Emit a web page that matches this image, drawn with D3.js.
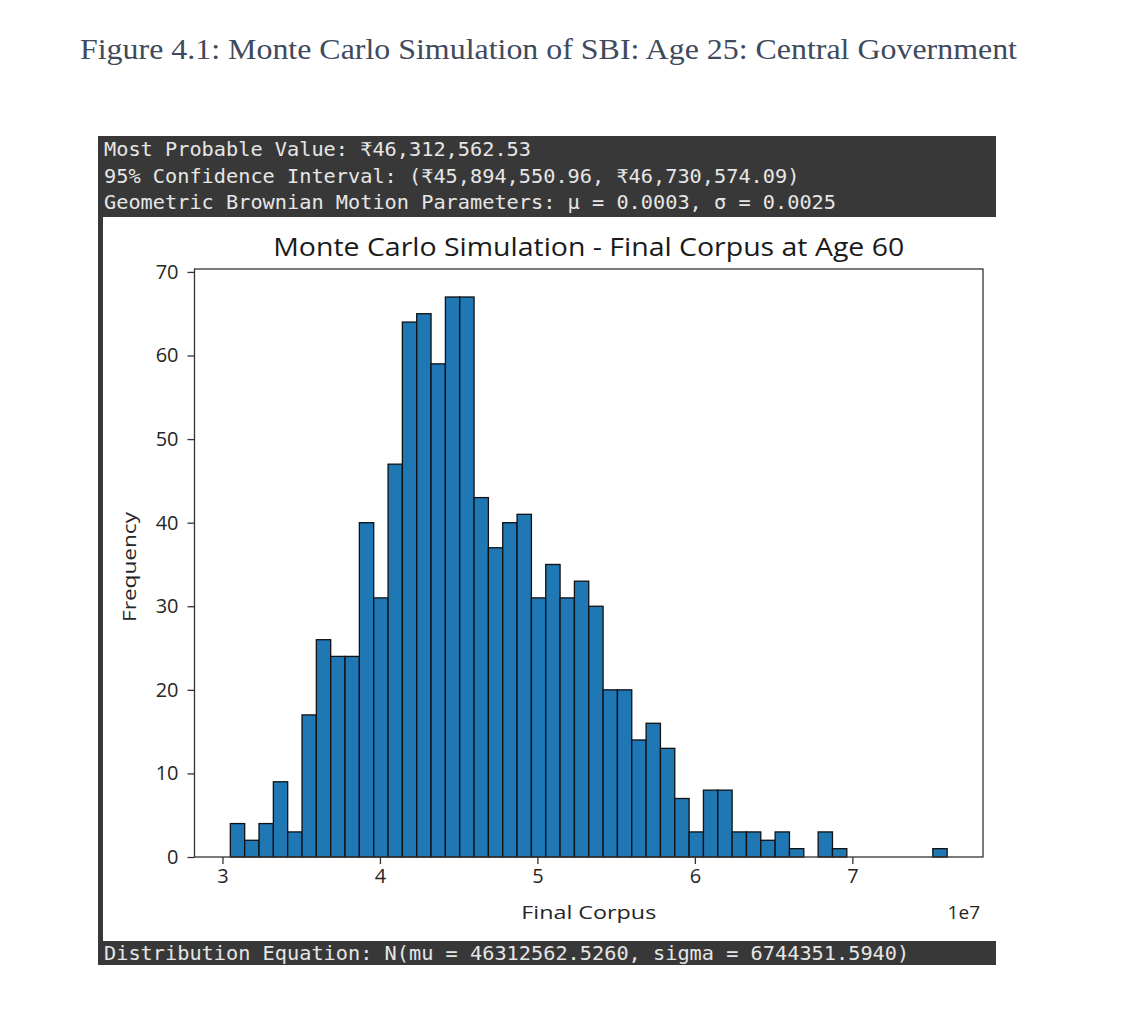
<!DOCTYPE html>
<html>
<head>
<meta charset="utf-8">
<script src="https://cdn.jsdelivr.net/npm/d3@7"></script>
<style>
  body { margin: 0; background: #ffffff; }
  svg { display: block; }
</style>
</head>
<body>
<svg id="chart" width="1140" height="1012"></svg>
<script>
// ---------- DATA ----------
const pageTitle = "Figure 4.1: Monte Carlo Simulation of SBI: Age 25: Central Government";
const headerLines = [
  "Most Probable Value: ₹46,312,562.53",
  "95% Confidence Interval: (₹45,894,550.96, ₹46,730,574.09)",
  "Geometric Brownian Motion Parameters: μ = 0.0003, σ = 0.0025"
];
const footerLine = "Distribution Equation: N(mu = 46312562.5260, sigma = 6744351.5940)";
const chartTitle = "Monte Carlo Simulation - Final Corpus at Age 60";
const xLabel = "Final Corpus";
const yLabel = "Frequency";
const xOffsetLabel = "1e7";
const histRange = [30500000, 76020000];   // min and max of simulated corpus
const binCounts = [
  4, 2, 4, 9, 3, 17, 26, 24, 24, 40,
  31, 47, 64, 65, 59, 67, 67, 43, 37, 40,
  41, 31, 35, 31, 33, 30, 20, 20, 14, 16,
  13, 7, 3, 8, 8, 3, 3, 2, 3, 1,
  0, 3, 1, 0, 0, 0, 0, 0, 0, 1
];
const xTickValues = [30000000, 40000000, 50000000, 60000000, 70000000];
const yTickValues = [0, 10, 20, 30, 40, 50, 60, 70];

// ---------- DRAW ----------
const svg = d3.select("#chart");

// page title
svg.append("text")
  .attr("x", 80).attr("y", 59)
  .attr("font-family", "'Liberation Serif', 'Times New Roman', serif")
  .attr("font-size", 30)
  .attr("fill", "#3f4a5c")
  .attr("textLength", 937)
  .attr("lengthAdjust", "spacingAndGlyphs")
  .text(pageTitle);

// header dark box
svg.append("rect").attr("x", 98).attr("y", 136).attr("width", 898).attr("height", 81).attr("fill", "#383838");
// left dark strip
svg.append("rect").attr("x", 98).attr("y", 136).attr("width", 5).attr("height", 829).attr("fill", "#383838");
// footer dark bar
svg.append("rect").attr("x", 98).attr("y", 941).attr("width", 898).attr("height", 24).attr("fill", "#383838");

const mono = "'DejaVu Sans Mono', 'Liberation Mono', monospace";
const headerBaselines = [156, 183, 209];
svg.selectAll("text.hdr").data(headerLines).join("text")
  .attr("class", "hdr")
  .attr("x", 104)
  .attr("y", (d, i) => headerBaselines[i])
  .attr("font-family", mono)
  .attr("font-size", 19)
  .attr("fill", "#e6e6e6")
  .attr("textLength", d => d.length * 12.2)
  .attr("lengthAdjust", "spacingAndGlyphs")
  .text(d => d);

svg.append("text")
  .attr("x", 104).attr("y", 960)
  .attr("font-family", mono)
  .attr("font-size", 19)
  .attr("fill", "#e6e6e6")
  .attr("textLength", footerLine.length * 12.2)
  .attr("lengthAdjust", "spacingAndGlyphs")
  .text(footerLine);

// plot geometry
const plot = { left: 194.5, right: 983, top: 269, bottom: 857 };
const nBins = binCounts.length;
const span = histRange[1] - histRange[0];
const binW = span / nBins;
const bins = binCounts.map((c, i) => ({
  x0: histRange[0] + i * binW,
  x1: histRange[0] + (i + 1) * binW,
  count: c
}));

const x = d3.scaleLinear()
  .domain([histRange[0] - 0.05 * span, histRange[1] + 0.05 * span])
  .range([plot.left, plot.right]);
const yMax = d3.max(binCounts) * 1.05;
const y = d3.scaleLinear().domain([0, yMax]).range([plot.bottom, plot.top]);

const sans = "'Open Sans', 'Noto Sans', 'DejaVu Sans', sans-serif";

// bars
svg.append("g").selectAll("rect").data(bins.filter(b => b.count > 0)).join("rect")
  .attr("x", d => x(d.x0))
  .attr("y", d => y(d.count))
  .attr("width", d => x(d.x1) - x(d.x0))
  .attr("height", d => y(0) - y(d.count))
  .attr("fill", "#1f77b4")
  .attr("stroke", "#111")
  .attr("stroke-width", 1.3);

// frame
svg.append("rect")
  .attr("x", plot.left).attr("y", plot.top)
  .attr("width", plot.right - plot.left).attr("height", plot.bottom - plot.top)
  .attr("fill", "none").attr("stroke", "#333").attr("stroke-width", 1.3);

// axes
const xAxis = svg.append("g")
  .attr("transform", `translate(0,${plot.bottom})`)
  .call(d3.axisBottom(x).tickValues(xTickValues).tickFormat(d => d / 1e7).tickSizeOuter(0).tickSize(7).tickPadding(5));
const yAxis = svg.append("g")
  .attr("transform", `translate(${plot.left},0)`)
  .call(d3.axisLeft(y).tickValues(yTickValues).tickSizeOuter(0).tickSize(7).tickPadding(9));
[xAxis, yAxis].forEach(g => {
  g.attr("font-size", null).attr("font-family", null);
  g.select(".domain").remove();
  g.selectAll(".tick line").attr("stroke", "#333").attr("stroke-width", 1.3);
  g.selectAll(".tick text")
    .style("font-family", sans).style("font-size", "20px").attr("fill", "#262626");
});

// chart title
svg.append("text")
  .attr("x", (plot.left + plot.right) / 2).attr("y", 256)
  .attr("text-anchor", "middle")
  .attr("font-family", sans)
  .attr("font-size", 26)
  .attr("fill", "#1a1a1a")
  .attr("textLength", 631)
  .attr("lengthAdjust", "spacingAndGlyphs")
  .text(chartTitle);

// axis labels
svg.append("text")
  .attr("x", (plot.left + plot.right) / 2).attr("y", 919)
  .attr("text-anchor", "middle")
  .attr("font-family", sans).attr("font-size", 19).attr("fill", "#262626")
  .attr("textLength", 135).attr("lengthAdjust", "spacingAndGlyphs")
  .text(xLabel);

svg.append("text")
  .attr("transform", `translate(136,567) rotate(-90)`)
  .attr("text-anchor", "middle")
  .attr("font-family", sans).attr("font-size", 19).attr("fill", "#262626")
  .attr("textLength", 110).attr("lengthAdjust", "spacingAndGlyphs")
  .text(yLabel);

svg.append("text")
  .attr("x", 980).attr("y", 919)
  .attr("text-anchor", "end")
  .attr("font-family", sans).attr("font-size", 19).attr("fill", "#262626")
  .text(xOffsetLabel);
</script>
</body>
</html>
